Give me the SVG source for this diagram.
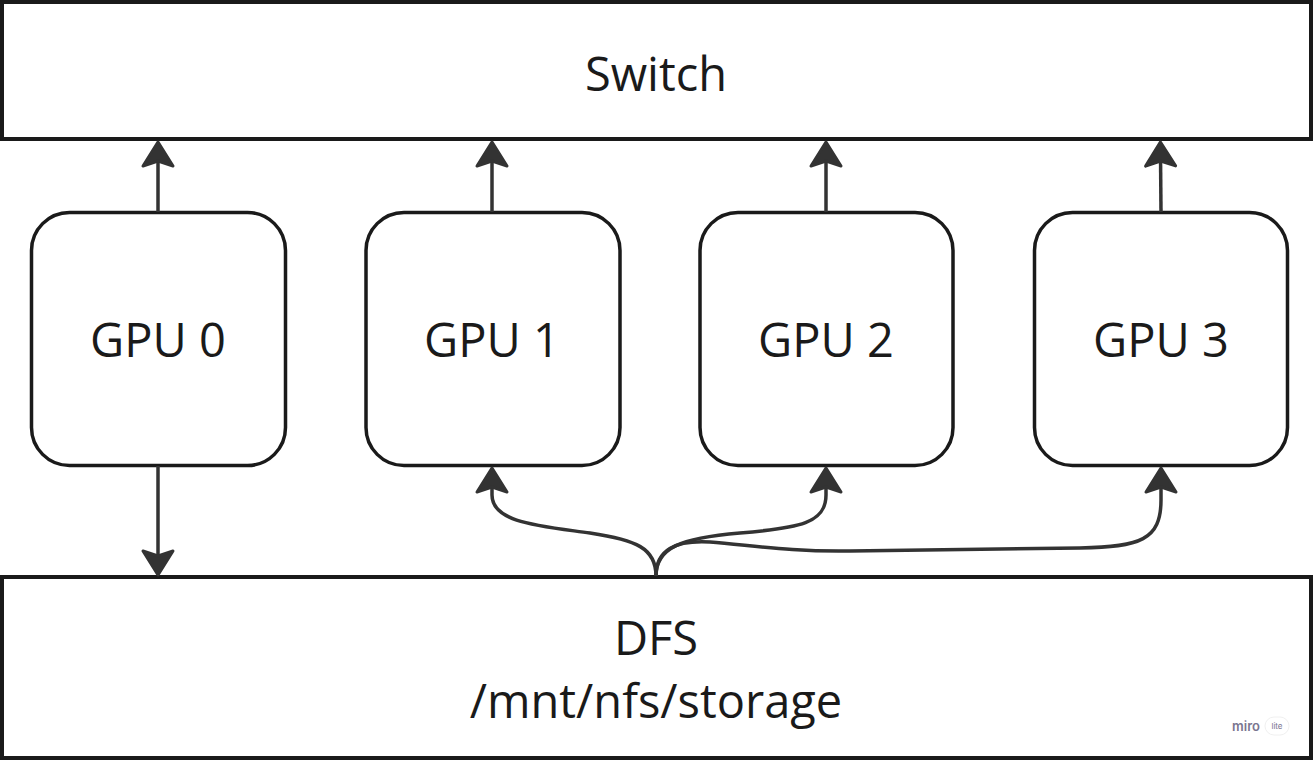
<svg xmlns="http://www.w3.org/2000/svg" width="1313" height="761" viewBox="0 0 1313 761">
<defs>
<style>
.box{fill:#fff;stroke:#1a1a1a;stroke-width:4}
.gpu{fill:#fff;stroke:#1a1a1a;stroke-width:3.5}
.lbl{font-family:"Open Sans","Noto Sans",sans-serif;font-size:47px;fill:#1a1a1a;text-anchor:middle}
.con{fill:none;stroke:#333;stroke-width:3.5}
</style>
<marker id="ah" markerUnits="userSpaceOnUse" viewBox="-20 -20 40 40" markerWidth="40" markerHeight="40" refX="0" refY="0" orient="auto">
<path d="M12,0 L-12,-15 L-7,0 L-12,15 Z" fill="#333" stroke="#333" stroke-width="3" stroke-linejoin="round"/>
</marker>
</defs>
<rect width="1313" height="761" fill="#fff"/>
<g id="switch">
<rect class="box" x="2" y="2" width="1309" height="137"/>
<text class="lbl" x="656" y="91">Switch</text>
</g>
<g id="gpu0">
<rect class="gpu" x="31.5" y="212.5" width="254" height="253" rx="38"/>
<text class="lbl" x="158" y="357">GPU 0</text>
</g>
<g id="gpu1">
<rect class="gpu" x="366" y="212.5" width="254" height="253" rx="38"/>
<text class="lbl" x="492" y="357">GPU 1</text>
</g>
<g id="gpu2">
<rect class="gpu" x="700" y="212.5" width="253" height="253" rx="38"/>
<text class="lbl" x="826" y="357">GPU 2</text>
</g>
<g id="gpu3">
<rect class="gpu" x="1034.5" y="212.5" width="253" height="253" rx="38"/>
<text class="lbl" x="1161" y="357">GPU 3</text>
</g>
<g id="dfs">
<rect class="box" x="2" y="577" width="1309" height="181"/>
<text class="lbl" x="656" y="655">DFS</text>
<text class="lbl" x="656" y="718">/mnt/nfs/storage</text>
</g>
<g id="watermark">
<text x="1246" y="731" style="font-family:Inter,'Noto Sans',sans-serif;font-size:13px;font-weight:600;fill:#7a7590;text-anchor:middle">miro</text>
<rect x="1265" y="717" width="24" height="18" rx="9" fill="#fff" stroke="#f0f0f0"/>
<text x="1277" y="729" style="font-family:Inter,'Noto Sans',sans-serif;font-size:8px;fill:#7a7590;text-anchor:middle">lite</text>
</g>
<g id="connectors">
<path class="con" d="M158,212 L158,154" marker-end="url(#ah)"/>
<path class="con" d="M492,212 L492,154" marker-end="url(#ah)"/>
<path class="con" d="M826,212 L826,154" marker-end="url(#ah)"/>
<path class="con" d="M1161,212 L1160.5,154" marker-end="url(#ah)"/>
<path class="con" d="M158,466 L158,563" marker-end="url(#ah)"/>
<path class="con" d="M656,576 C656,548 636,540 590,533 C540,526 492,523 492,495 L492,480" marker-end="url(#ah)"/>
<path class="con" d="M656,576 C656,548 680,538 740,533 C800,528 826,523 826,495 L826,480" marker-end="url(#ah)"/>
<path class="con" d="M656,576 C656,550 675,540 710,542 C750,545 790,552 850,551 L1080,548 C1140,547 1161,540 1161,500 L1161,480" marker-end="url(#ah)"/>
</g>
</svg>
